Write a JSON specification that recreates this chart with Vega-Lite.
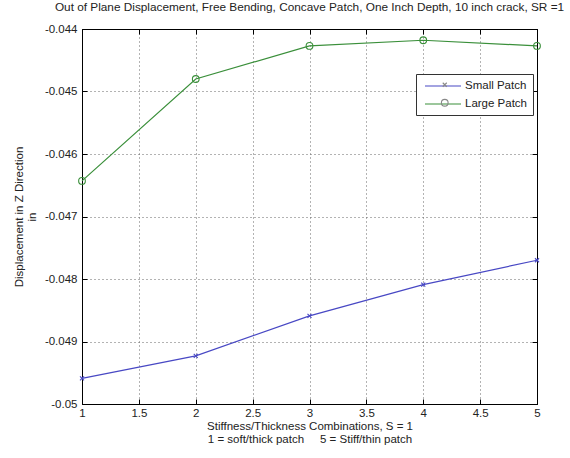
{
  "$schema": "https://vega.github.io/schema/vega-lite/v6.json",
  "width": 455,
  "height": 375,
  "autosize": "none",
  "padding": {"left": 82, "top": 29, "right": 33, "bottom": 54},
  "background": "white",
  "title": {
    "text": "Out of Plane Displacement, Free Bending, Concave Patch, One Inch Depth, 10 inch crack, SR =1",
    "font": "Liberation Sans",
    "fontSize": 11.8,
    "fontWeight": "normal",
    "color": "#222",
    "anchor": "middle",
    "offset": 9
  },
  "config": {
    "view": {"stroke": "black", "strokeWidth": 1},
    "font": "Liberation Sans",
    "axis": {
      "labelFont": "Liberation Sans",
      "titleFont": "Liberation Sans",
      "labelFontSize": 11.5,
      "titleFontSize": 11.5,
      "titleFontWeight": "normal",
      "labelColor": "#222",
      "titleColor": "#222",
      "domainColor": "black",
      "tickColor": "black",
      "gridColor": "#666",
      "gridDash": [1, 3],
      "gridOpacity": 1,
      "gridWidth": 1
    }
  },
  "data": {
    "values": [
      {"combo": 1, "disp": -0.04959, "series": "Small Patch"},
      {"combo": 2, "disp": -0.04923, "series": "Small Patch"},
      {"combo": 3, "disp": -0.04859, "series": "Small Patch"},
      {"combo": 4, "disp": -0.04809, "series": "Small Patch"},
      {"combo": 5, "disp": -0.0477, "series": "Small Patch"},
      {"combo": 1, "disp": -0.04643, "series": "Large Patch"},
      {"combo": 2, "disp": -0.0448, "series": "Large Patch"},
      {"combo": 3, "disp": -0.04427, "series": "Large Patch"},
      {"combo": 4, "disp": -0.04418, "series": "Large Patch"},
      {"combo": 5, "disp": -0.04427, "series": "Large Patch"}
    ]
  },
  "resolve": {"axis": {"x": "independent", "y": "independent"}},
  "layer": [
    {
      "mark": {"type": "line", "strokeWidth": 1.2},
      "encoding": {
        "x": {
          "field": "combo", "type": "quantitative",
          "scale": {"domain": [1, 5], "nice": false, "zero": false},
          "axis": {
            "values": [1, 1.5, 2, 2.5, 3, 3.5, 4, 4.5, 5],
            "format": "~g",
            "tickSize": -5,
            "labelPadding": 8,
            "labelFlush": false,
            "title": ["Stiffness/Thickness Combinations, S = 1", "1 = soft/thick patch \u00a0\u00a0\u00a0 5 = Stiff/thin patch"],
            "titlePadding": 2,
            "titleLineHeight": 13
          }
        },
        "y": {
          "field": "disp", "type": "quantitative",
          "scale": {"domain": [-0.05, -0.044], "nice": false, "zero": false},
          "axis": {
            "values": [-0.05, -0.049, -0.048, -0.047, -0.046, -0.045, -0.044],
            "format": ".3~f",
            "labelExpr": "replace(datum.label, '\u2212', '-')",
            "tickSize": -5,
            "labelPadding": 10,
            "labelFlush": false,
            "title": ["Displacement in Z Direction", "in"],
            "titlePadding": 7,
            "titleLineHeight": 13
          }
        },
        "color": {
          "field": "series", "type": "nominal",
          "scale": {"domain": ["Small Patch", "Large Patch"], "range": ["#4848c4", "#3a8f3a"]},
          "legend": {
            "title": null,
            "orient": "none",
            "legendX": 334,
            "legendY": 45,
            "symbolType": "M-3,0L3,0",
            "symbolSize": 144,
            "symbolStrokeWidth": 1.2,
            "symbolOffset": 15,
            "labelFont": "Liberation Sans",
            "labelFontSize": 11.5,
            "labelColor": "#222",
            "labelOffset": 15,
            "padding": 5,
            "rowPadding": 5,
            "strokeColor": "#333",
            "fillColor": "white"
          }
        }
      }
    },
    {
      "mark": {"type": "point", "filled": false, "strokeWidth": 1.1, "size": 45, "opacity": 1},
      "encoding": {
        "x": {
          "field": "combo", "type": "quantitative",
          "axis": {"orient": "top", "values": [1, 1.5, 2, 2.5, 3, 3.5, 4, 4.5, 5], "labels": false, "tickSize": -5, "grid": false, "title": null}
        },
        "y": {
          "field": "disp", "type": "quantitative",
          "axis": {"orient": "right", "values": [-0.05, -0.049, -0.048, -0.047, -0.046, -0.045, -0.044], "labels": false, "tickSize": -5, "grid": false, "title": null}
        },
        "stroke": {
          "field": "series", "type": "nominal",
          "scale": {"domain": ["Small Patch", "Large Patch"], "range": ["#4848c4", "#3a8f3a"]},
          "legend": null
        },
        "shape": {
          "field": "series", "type": "nominal", "sort": "descending",
          "scale": {"range": ["M-0.6,-0.6L0.6,0.6M0.6,-0.6L-0.6,0.6", "circle"]},
          "legend": {
            "title": null,
            "orient": "none",
            "legendX": 352,
            "legendY": 45,
            "symbolSize": 45,
            "symbolStrokeWidth": 1.1,
            "symbolFillColor": "transparent",
            "labelFontSize": 11.5,
            "labelExpr": "' '",
            "labelOpacity": 0,
            "padding": 5,
            "rowPadding": 5,
            "encode": {"symbols": {"update": {"stroke": {"scale": "stroke", "field": "value"}, "fill": {"value": "transparent"}}}}
          }
        }
      }
    }
  ]
}
